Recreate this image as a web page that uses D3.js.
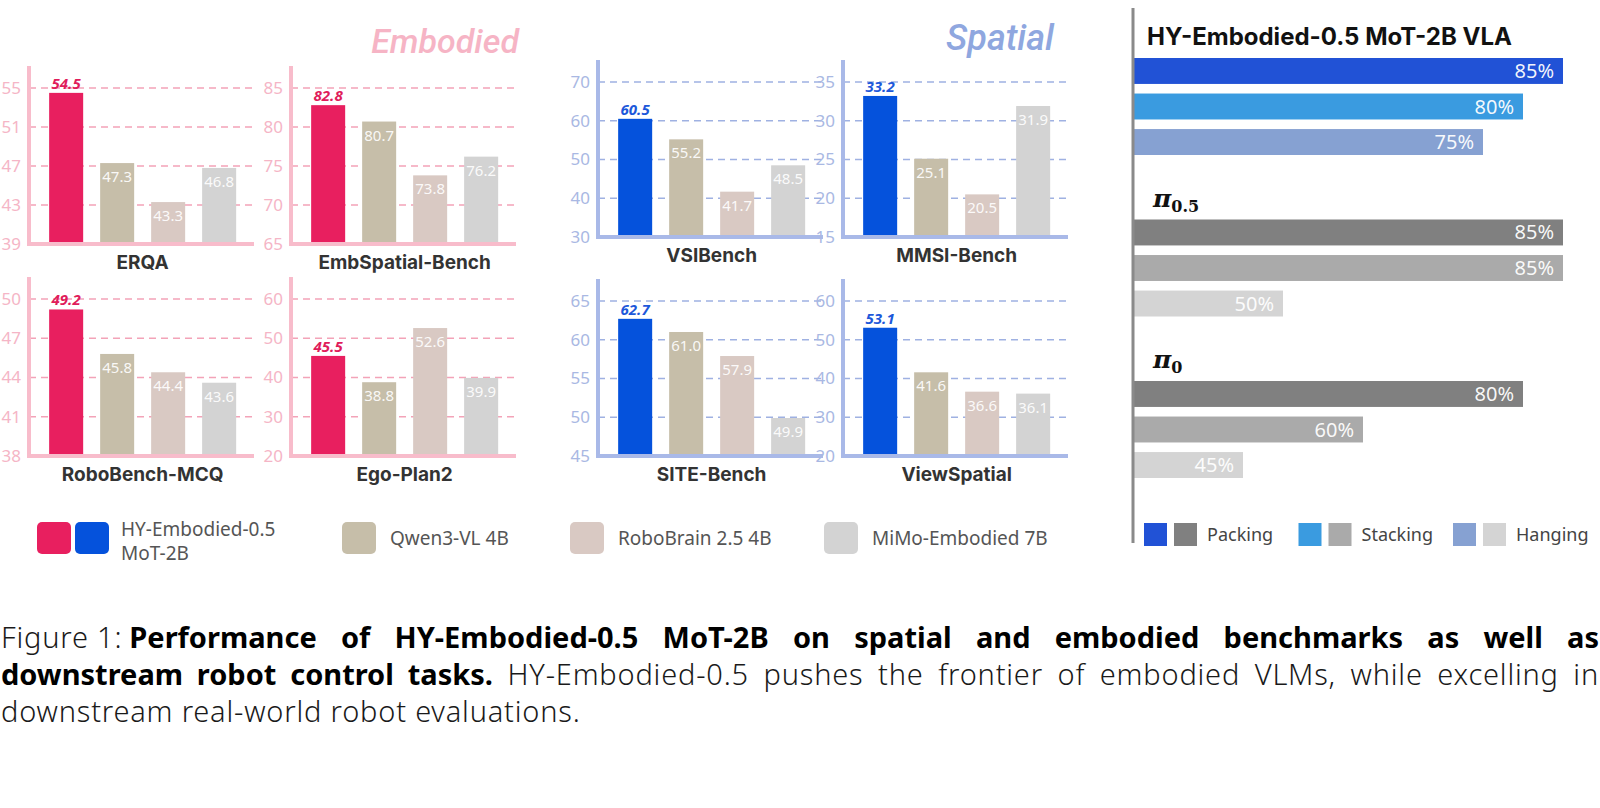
<!DOCTYPE html>
<meta charset="utf-8">
<style>
body { margin: 0; background: #fff; width: 1600px; height: 808px; overflow: hidden; position: relative; }
svg { position: absolute; left: 0; top: 0; }
.tick text { font-family: "Noto Sans", sans-serif; }
.caption { position: absolute; left: 1px; width: 1598px; font-family: "Noto Sans", sans-serif; font-weight: 300; font-size: 29px; line-height: 37px; color: #1a1a1a; letter-spacing: 0.8px; }
.caption b { font-weight: 700; color: #000; letter-spacing: 0; }
.caption .fig { display: inline-block; margin-right: 7px; }
</style>
<svg width="1600" height="600"></svg>
<script src="https://d3js.org/d3.v7.min.js"></script>
<script>

var models = ["HY-Embodied-0.5 MoT-2B", "Qwen3-VL 4B", "RoboBrain 2.5 4B", "MiMo-Embodied 7B"];

// embodied benchmarks
var embodiedBench = ["ERQA", "EmbSpatial-Bench", "RoboBench-MCQ", "Ego-Plan2"];
var embodiedScores = [
  [54.5, 47.3, 43.3, 46.8],
  [82.8, 80.7, 73.8, 76.2],
  [49.2, 45.8, 44.4, 43.6],
  [45.5, 38.8, 52.6, 39.9]];
var embodiedTicks = [
  [39, 43, 47, 51, 55],
  [65, 70, 75, 80, 85],
  [38, 41, 44, 47, 50],
  [20, 30, 40, 50, 60]];

// spatial benchmarks
var spatialBench = ["VSIBench", "MMSI-Bench", "SITE-Bench", "ViewSpatial"];
var spatialScores = [
  [60.5, 55.2, 41.7, 48.5],
  [33.2, 25.1, 20.5, 31.9],
  [62.7, 61.0, 57.9, 49.9],
  [53.1, 41.6, 36.6, 36.1]];
var spatialTicks = [
  [30, 40, 50, 60, 70],
  [15, 20, 25, 30, 35],
  [45, 50, 55, 60, 65],
  [20, 30, 40, 50, 60]];

// robot control success rates
var vlaModels = ["HY-Embodied-0.5 MoT-2B VLA", "π0.5", "π0"];
var vlaTasks = ["Packing", "Stacking", "Hanging"];
var vlaRates = [
  [85, 80, 75],
  [85, 85, 50],
  [80, 60, 45]];

var modelColors = ["#e81f5f", "#c6bea9", "#d9c9c3", "#d3d3d3"];
var hyBlue = "#0552dc";
var hyTaskColors = ["#2152d6", "#3a9be0", "#86a1d2"];
var piTaskColors = ["#808080", "#aaaaaa", "#d4d4d4"];

var pink = { axis: "#f8bccb", grid: "#f3a3b8", text: "#f5b5c6", hy: "#e81f5f", label: "#e01d5b" };
var blue = { axis: "#a9b9e8", grid: "#9fb1e2", text: "#a9b8e3", hy: hyBlue, label: "#1d58da" };

var svg = d3.select("svg");

function drawPanel(x0, yBase, yTop, name, scores, ticks, theme) {
  var g = svg.append("g");
  var colors = modelColors.slice();
  colors[0] = theme.hy;

  var x = d3.scaleBand().domain(models)
    .range([x0 + 12.5, x0 + 214.8])
    .paddingInner(0.333).paddingOuter(0.15);
  var y = d3.scaleLinear().domain([ticks[0], ticks[4]]).range([yBase, yTop]);

  // dashed grid
  g.selectAll("line.grid")
    .data(ticks.slice(1))
    .enter().append("line")
    .attr("x1", x0).attr("x2", x0 + 224)
    .attr("y1", function(d) { return y(d); })
    .attr("y2", function(d) { return y(d); })
    .attr("stroke", theme.grid)
    .attr("stroke-width", 1.5)
    .attr("stroke-dasharray", "7,5");

  // bars
  g.selectAll("rect")
    .data(scores)
    .enter().append("rect")
    .attr("x", function(d, i) { return x(models[i]); })
    .attr("width", x.bandwidth())
    .attr("y", function(d) { return y(d); })
    .attr("height", function(d) { return yBase - y(d); })
    .attr("fill", function(d, i) { return colors[i]; });

  // value labels
  g.selectAll("text.val")
    .data(scores)
    .enter().append("text")
    .attr("x", function(d, i) { return x(models[i]) + x.bandwidth() / 2; })
    .attr("y", function(d, i) { return i === 0 ? y(d) - 4 : y(d) + 19; })
    .attr("text-anchor", "middle")
    .attr("font-family", "Noto Sans, sans-serif")
    .attr("font-size", 15)
    .attr("font-style", function(d, i) { return i === 0 ? "italic" : "normal"; })
    .attr("font-weight", function(d, i) { return i === 0 ? 700 : 400; })
    .attr("fill", function(d, i) { return i === 0 ? theme.label : "rgba(255,255,255,0.92)"; })
    .text(function(d) { return d.toFixed(1); });

  // y axis labels
  var ax = g.append("g")
    .attr("transform", "translate(" + x0 + ",0)")
    .call(d3.axisLeft(y).tickValues(ticks).tickSize(0).tickPadding(8));
  ax.select(".domain").remove();
  ax.selectAll("text")
    .attr("font-size", 17)
    .attr("fill", theme.text);

  // axis lines
  g.append("line")
    .attr("x1", x0).attr("x2", x0)
    .attr("y1", yBase + 2).attr("y2", yTop - 22)
    .attr("stroke", theme.axis).attr("stroke-width", 4);
  g.append("line")
    .attr("x1", x0 - 2).attr("x2", x0 + 225)
    .attr("y1", yBase).attr("y2", yBase)
    .attr("stroke", theme.axis).attr("stroke-width", 4);

  g.append("text")
    .attr("x", (x(models[0]) + x(models[3]) + x.bandwidth()) / 2)
    .attr("y", yBase + 25)
    .attr("text-anchor", "middle")
    .attr("font-family", "Inter, sans-serif")
    .attr("font-weight", 700)
    .attr("font-size", 19)
    .attr("fill", "#333")
    .text(name);
}

// Embodied group
var pinkCols = [29, 291];
var pinkRows = [[244, 88], [456, 299]];
embodiedBench.forEach(function(b, i) {
  var r = pinkRows[Math.floor(i / 2)];
  drawPanel(pinkCols[i % 2], r[0], r[1], b, embodiedScores[i], embodiedTicks[i], pink);
});

// Spatial group
var blueCols = [598, 843];
var blueRows = [[237, 82], [456, 301]];
spatialBench.forEach(function(b, i) {
  var r = blueRows[Math.floor(i / 2)];
  drawPanel(blueCols[i % 2], r[0], r[1], b, spatialScores[i], spatialTicks[i], blue);
});

svg.append("text")
  .attr("x", 519).attr("y", 53)
  .attr("text-anchor", "end")
  .attr("font-family", "Roboto, sans-serif")
  .attr("font-style", "italic")
  .attr("font-weight", 500)
  .attr("font-size", 34)
  .attr("fill", "#f6b4c5")
  .text("Embodied");

svg.append("text")
  .attr("x", 1054).attr("y", 50)
  .attr("text-anchor", "end")
  .attr("font-family", "Roboto, sans-serif")
  .attr("font-style", "italic")
  .attr("font-weight", 500)
  .attr("font-size", 36)
  .attr("fill", "#8fa7df")
  .text("Spatial");

// left legend
var legX = [37, 342, 570, 824];
var leg = svg.append("g");
models.forEach(function(m, i) {
  var lx = legX[i];
  leg.append("rect").attr("x", lx).attr("y", 522).attr("width", 34).attr("height", 32)
    .attr("rx", 5).attr("fill", modelColors[i]);
  if (i === 0) {
    leg.append("rect").attr("x", lx + 38).attr("y", 522).attr("width", 34).attr("height", 32)
      .attr("rx", 5).attr("fill", hyBlue);
    var t = leg.append("text").attr("font-family", "Noto Sans, sans-serif")
      .attr("font-size", 19).attr("fill", "#555");
    t.append("tspan").attr("x", lx + 84).attr("y", 536).text("HY-Embodied-0.5");
    t.append("tspan").attr("x", lx + 84).attr("y", 560).text("MoT-2B");
  } else {
    leg.append("text").attr("x", lx + 48).attr("y", 545)
      .attr("font-family", "Noto Sans, sans-serif")
      .attr("font-size", 19).attr("fill", "#555")
      .text(m);
  }
});

// right panel: robot control
var lineX = 1133;
var vx = d3.scaleLinear().domain([0, 100]).range([883, 1683]);
var groupY = d3.scaleBand().domain(vlaModels).range([58, 542.5]);
var taskY = d3.scaleBand().domain(vlaTasks).range([0, 97]).paddingInner(0.27);

var right = svg.append("g");
vlaModels.forEach(function(m, gi) {
  var gy = groupY(m);
  var cols = gi === 0 ? hyTaskColors : piTaskColors;
  var lab = right.append("text").attr("x", 1147).attr("y", gy - 13).attr("fill", "#111");
  if (gi === 0) {
    lab.attr("font-family", "Inter, sans-serif").attr("font-weight", 700)
      .attr("font-size", 24).text(m);
  } else {
    lab.attr("x", 1153).attr("font-family", "DejaVu Serif, serif").attr("font-weight", 700);
    lab.append("tspan").attr("font-style", "italic").attr("font-size", 25).text("π");
    lab.append("tspan").attr("font-size", 16).attr("dy", 5).text(m.slice(1));
  }
  vlaRates[gi].forEach(function(v, ti) {
    var by = gy + taskY(vlaTasks[ti]);
    right.append("rect")
      .attr("x", lineX).attr("y", by)
      .attr("width", vx(v) - lineX).attr("height", taskY.bandwidth())
      .attr("fill", cols[ti]);
    right.append("text")
      .attr("x", vx(v) - 9).attr("y", by + taskY.bandwidth() / 2 + 7)
      .attr("text-anchor", "end")
      .attr("font-family", "Noto Sans, sans-serif")
      .attr("font-size", 20)
      .attr("fill", "rgba(255,255,255,0.95)")
      .text(v + "%");
  });
});

right.append("line")
  .attr("x1", lineX).attr("x2", lineX)
  .attr("y1", 8).attr("y2", 543)
  .attr("stroke", "#8a8a8a").attr("stroke-width", 3);

// right legend
vlaTasks.forEach(function(t, i) {
  var lx = 1144 + i * 154.5;
  right.append("rect").attr("x", lx).attr("y", 523).attr("width", 23).attr("height", 23)
    .attr("fill", hyTaskColors[i]);
  right.append("rect").attr("x", lx + 30).attr("y", 523).attr("width", 23).attr("height", 23)
    .attr("fill", piTaskColors[i]);
  right.append("text").attr("x", lx + 63).attr("y", 541)
    .attr("font-family", "Noto Sans, sans-serif")
    .attr("font-size", 18).attr("fill", "#444")
    .text(t);
});

// caption
var body = d3.select("body");
body.append("div").attr("class", "caption")
  .style("top", "618px").style("text-align", "justify").style("text-align-last", "justify")
  .html("<span class='fig'>Figure 1:</span><b>Performance of HY-Embodied-0.5 MoT-2B on spatial and embodied benchmarks as well as</b>");
body.append("div").attr("class", "caption")
  .style("top", "655px").style("text-align", "justify").style("text-align-last", "justify")
  .html("<b>downstream robot control tasks.</b> HY-Embodied-0.5 pushes the frontier of embodied VLMs, while excelling in");
body.append("div").attr("class", "caption")
  .style("top", "692px")
  .text("downstream real-world robot evaluations.");

</script>
